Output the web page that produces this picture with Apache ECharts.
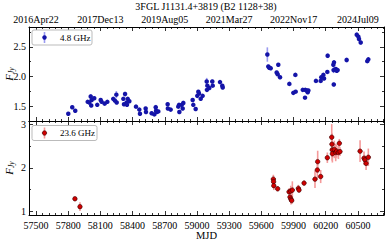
<!DOCTYPE html>
<html><head><meta charset="utf-8">
<script src="https://cdn.jsdelivr.net/npm/echarts@6/dist/echarts.min.js"></script>
<style>html,body{margin:0;padding:0;background:#fff}#c{width:389px;height:243px}</style>
</head><body><div id="c"></div>
<script>
// ---- data: 4.8 GHz ----
const mjd48 = [57801,57838,57866,57982,57997,58010,58015,58019,58043,58071,58103,58112,58140,58165,58220,58236,58249,58252,58314,58320,58330,58345,58348,58355,58370,58432,58463,58469,58522,58525,58578,58603,58616,58619,58625,58640,58727,58729,58755,58826,58833,58836,58858,58867,58873,58960,58966,58988,59003,59013,59019,59035,59053,59091,59093,59097,59115,59143,59147,59215,59236,59240,59656,59665,59674,59687,59743,59752,59758,59774,59861,59898,59917,59920,59986,60007,60009,60023,60032,60038,60109,60153,60159,60178,60184,60215,60218,60271,60273,60275,60277,60293,60302,60311,60395,60489,60504,60510,60526,60587,60597];
const flux48 = [1.38,1.49,1.43,1.58,1.57,1.67,1.52,1.61,1.64,1.53,1.61,1.58,1.55,1.58,1.63,1.60,1.70,1.57,1.63,1.54,1.71,1.57,1.53,1.63,1.59,1.50,1.45,1.38,1.47,1.41,1.39,1.37,1.49,1.43,1.41,1.42,1.54,1.47,1.45,1.50,1.53,1.41,1.53,1.47,1.56,1.61,1.53,1.46,1.68,1.75,1.72,1.63,1.68,1.92,1.78,1.85,1.81,1.92,1.85,1.91,1.85,1.82,2.37,2.17,2.15,2.14,2.07,2.04,2.20,1.99,1.88,1.73,2.03,1.75,1.78,1.65,1.78,1.77,1.74,1.77,1.93,1.93,1.99,2.03,1.97,2.08,2.35,2.20,2.11,1.87,2.24,2.13,2.10,2.11,2.28,2.70,2.67,2.63,2.57,2.26,2.29];
const err48 = [0.02,0.02,0.02,0.02,0.02,0.04,0.02,0.02,0.02,0.02,0.02,0.02,0.02,0.02,0.02,0.02,0.06,0.02,0.02,0.02,0.04,0.02,0.02,0.02,0.02,0.02,0.02,0.02,0.02,0.02,0.02,0.02,0.04,0.02,0.02,0.02,0.02,0.02,0.02,0.02,0.02,0.02,0.02,0.02,0.04,0.02,0.02,0.02,0.02,0.02,0.02,0.02,0.02,0.06,0.03,0.02,0.02,0.03,0.02,0.02,0.02,0.02,0.12,0.03,0.02,0.02,0.02,0.02,0.02,0.02,0.02,0.02,0.03,0.02,0.02,0.02,0.02,0.02,0.02,0.02,0.02,0.03,0.02,0.03,0.02,0.03,0.04,0.03,0.05,0.03,0.03,0.03,0.03,0.03,0.04,0.04,0.03,0.03,0.03,0.03,0.03];
// ---- data: 23.6 GHz ----
const mjd236 = [57863,57910,59712,59714,59716,59752,59858,59867,59874,59876,59883,59889,59945,59951,59998,60100,60122,60125,60153,60215,60256,60258,60260,60262,60280,60293,60302,60318,60327,60333,60520,60557,60566,60576,60597];
const flux236 = [1.29,1.11,1.74,1.68,1.59,1.52,1.45,1.33,1.47,1.28,1.25,1.49,1.53,1.49,1.65,1.74,1.95,2.14,1.80,2.23,2.70,2.54,2.41,2.32,2.42,2.35,2.38,2.35,2.56,2.37,2.38,2.22,2.18,2.10,2.24];
const err236 = [0.04,0.10,0.10,0.08,0.10,0.06,0.08,0.10,0.12,0.12,0.08,0.20,0.08,0.06,0.06,0.20,0.20,0.25,0.15,0.12,0.30,0.25,0.25,0.20,0.20,0.20,0.15,0.15,0.10,0.10,0.25,0.15,0.10,0.15,0.20];
// ---- ticks ----
const xMajor = [57500,57800,58100,58400,58700,59000,59300,59600,59900,60200,60500];
const xMajorLabels = ['57500','57800','58100','58400','58700','59000','59300','59600','59900','60200','60500'];
const xMinor = [57440,57560,57620,57680,57740,57860,57920,57980,58040,58160,58220,58280,58340,58460,58520,58580,58640,58760,58820,58880,58940,59060,59120,59180,59240,59360,59420,59480,59540,59660,59720,59780,59840,59960,60020,60080,60140,60260,60320,60380,60440,60560,60620,60680,60740];
const dateTickValues = [57500,58100,58700,59300,59900,60500];
const dateTickLabels = ['2016Apr22','2017Dec13','2019Aug05','2021Mar27','2022Nov17','2024Jul09'];
const yTopMajor = [1.5,2.0,2.5];
const yTopLabels = ['1.5','2.0','2.5'];
const yTopMinor = [1.25,1.75,2.25,2.75];
const yBotMajor = [1,2,3];
const yBotLabels = ['1','2','3'];
const yBotMinor = [1.5,2.5];
const titleText = '3FGL J1131.4+3819 (B2 1128+38)';
const legend48 = '4.8 GHz', legend236 = '23.6 GHz';

const XMIN = 57435, XMAX = 60743;
const FONT = '"Liberation Serif", "DejaVu Serif", serif';
const grids = [
  {left:29, top:27, width:355, height:94, ymin:1.26, ymax:2.83, yMaj:yTopMajor, yLab:yTopLabels, yMin:yTopMinor, topLabels:true, bottomLabels:false},
  {left:29, top:121, width:355, height:94, ymin:0.92, ymax:3.07, yMaj:yBotMajor, yLab:yBotLabels, yMin:yBotMinor, topLabels:false, bottomLabels:true}
];
const lookup = (vals, labs) => (v) => { for (let i = 0; i < vals.length; i++) { if (Math.abs(vals[i] - v) < 1e-6) return labs[i]; } return ''; };
const xAxes = [], yAxes = [];
grids.forEach((g, gi) => {
  const base = {gridIndex:gi, type:'value', min:XMIN, max:XMAX, splitLine:{show:false}};
  const line = {show:true, lineStyle:{color:'#000', width:1}};
  const ticks = (vals, len) => ({show:true, inside:true, length:len, customValues:vals, lineStyle:{color:'#000', width:0.8}});
  xAxes.push(Object.assign({}, base, {position:'bottom', axisLine:line, axisTick:ticks(xMajor,4),
    axisLabel: g.bottomLabels ? {show:true, customValues:xMajor, formatter:lookup(xMajor, xMajorLabels), margin:5, fontSize:10, color:'#000', fontFamily:FONT} : {show:false},
    name: g.bottomLabels ? 'MJD' : '', nameLocation:'middle', nameGap:15, nameMoveOverlap:false, nameTextStyle:{fontSize:10.5, color:'#000', fontFamily:FONT}}));
  xAxes.push(Object.assign({}, base, {position:'bottom', axisLine:{show:false}, axisTick:ticks(xMinor,2), axisLabel:{show:false}}));
  xAxes.push(Object.assign({}, base, {position:'top', axisLine:line, axisTick:ticks(xMajor,4),
    axisLabel: g.topLabels ? {show:true, customValues:dateTickValues, formatter:lookup(dateTickValues, dateTickLabels), margin:3, fontSize:10, color:'#000', fontFamily:FONT} : {show:false}}));
  xAxes.push(Object.assign({}, base, {position:'top', axisLine:{show:false}, axisTick:ticks(xMinor,2), axisLabel:{show:false}}));
  const yb = {gridIndex:gi, type:'value', min:g.ymin, max:g.ymax, splitLine:{show:false}};
  yAxes.push(Object.assign({}, yb, {position:'left', axisLine:line, axisTick:ticks(g.yMaj,4),
    axisLabel:{show:true, customValues:g.yMaj, formatter:lookup(g.yMaj, g.yLab), margin:3, fontSize:10, color:'#000', fontFamily:FONT},
    name:'{f|F}{s|Jy}', nameLocation:'middle', nameGap:14, nameMoveOverlap:false, nameRotate:90,
    nameTextStyle:{rich:{f:{fontSize:11, fontStyle:'italic', fontFamily:FONT, color:'#000', lineHeight:13}, s:{fontSize:7.5, fontStyle:'italic', fontFamily:FONT, color:'#000', verticalAlign:'bottom', lineHeight:13, padding:[3,0,0,0]}}}}));
  yAxes.push(Object.assign({}, yb, {position:'left', axisLine:{show:false}, axisTick:ticks(g.yMin,2), axisLabel:{show:false}}));
  yAxes.push(Object.assign({}, yb, {position:'right', axisLine:line, axisTick:ticks(g.yMaj,4), axisLabel:{show:false}}));
  yAxes.push(Object.assign({}, yb, {position:'right', axisLine:{show:false}, axisTick:ticks(g.yMin,2), axisLabel:{show:false}}));
});

function errSeries(gi, mjd, flux, err, color) {
  return {type:'custom', xAxisIndex:gi*4, yAxisIndex:gi*4, silent:true, z:2,
    encode:{x:0, y:[1,2]},
    data: mjd.map((m,i)=>[m, flux[i]-err[i], flux[i]+err[i]]),
    renderItem:(params, api)=>{
      const p1 = api.coord([api.value(0), api.value(1)]);
      const p2 = api.coord([api.value(0), api.value(2)]);
      return {type:'line', shape:{x1:p1[0], y1:p1[1], x2:p2[0], y2:p2[1]}, style:{stroke:color, lineWidth:1.6}};
    }};
}
function ptSeries(gi, mjd, flux, color, border) {
  return {type:'scatter', xAxisIndex:gi*4, yAxisIndex:gi*4, silent:true, z:3, symbolSize:4.5,
    itemStyle:{color:color, borderColor:border, borderWidth:border ? 0.6 : 0, opacity:1},
    data: mjd.map((m,i)=>[m, flux[i]])};
}

function legendBox(x, y, w, h, col, errCol, border, text) {
  return [
    {type:'rect', shape:{x:x, y:y, width:w, height:h, r:2}, style:{fill:'#fff', stroke:'#bbb', lineWidth:1}, z:10},
    {type:'line', shape:{x1:x+12.5, y1:y+2, x2:x+12.5, y2:y+h-2}, style:{stroke:errCol, lineWidth:1.6}, z:11},
    {type:'circle', shape:{cx:x+12.5, cy:y+h/2, r:2.2}, style:{fill:col, stroke:border || null, lineWidth:0.6}, z:12},
    {type:'text', x:x+28, y:y+h/2, style:{text:text, fontSize:9, fontFamily:FONT, fill:'#000', verticalAlign:'middle'}, z:12}
  ];
}

const chart = echarts.init(document.getElementById('c'), null, {renderer:'svg'});
chart.setOption({
  animation:false,
  backgroundColor:'#fff',
  title:{text:titleText, left:206, textAlign:'center', top:1, padding:0, textStyle:{fontSize:10, fontWeight:'normal', color:'#000', fontFamily:FONT}},
  grid: grids.map(g=>({left:g.left, top:g.top, width:g.width, height:g.height, show:false, containLabel:false, outerBoundsMode:'none'})),
  xAxis: xAxes,
  yAxis: yAxes,
  series: [
    errSeries(0, mjd48, flux48, err48, '#9a9af0'),
    ptSeries(0, mjd48, flux48, '#1414a8', null),
    errSeries(1, mjd236, flux236, err236, '#f59a9a'),
    ptSeries(1, mjd236, flux236, '#d00000', '#300')
  ],
  graphic: [].concat(
    legendBox(32, 30, 60, 15, '#1414a8', '#9a9af0', null, legend48),
    legendBox(32, 125.5, 65, 15, '#d00000', '#f59a9a', '#300', legend236)
  )
});
</script>
</body></html>
